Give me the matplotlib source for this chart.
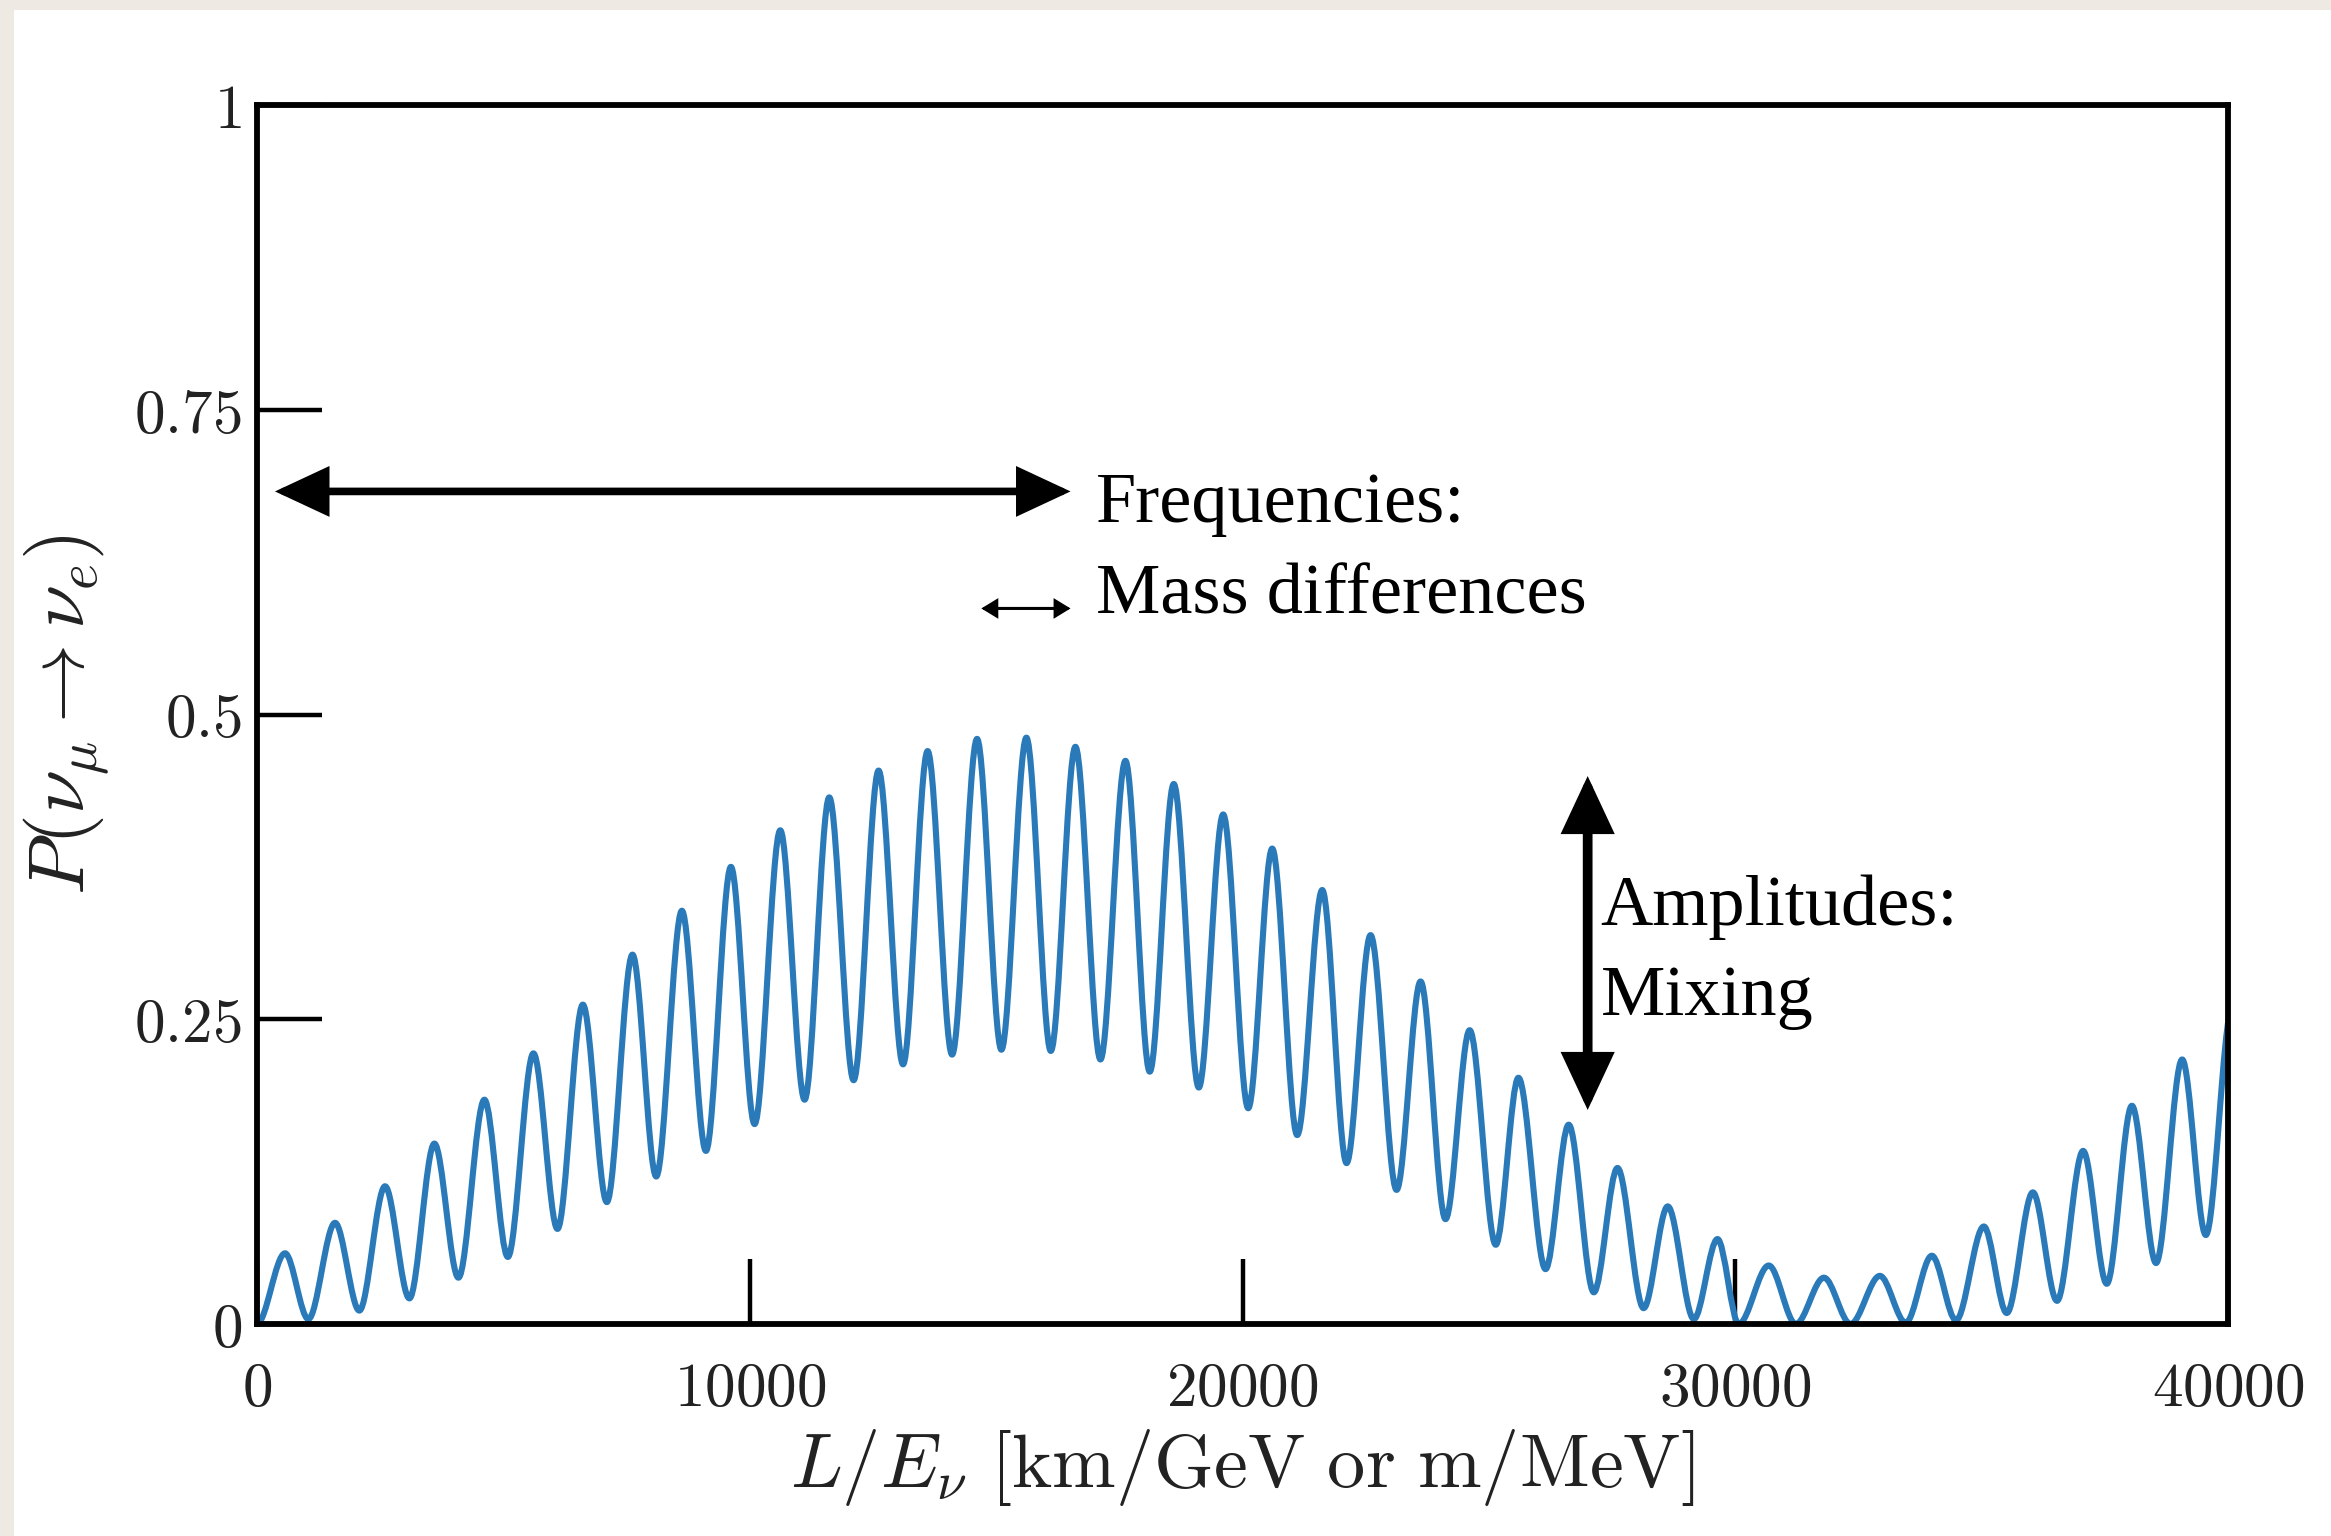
import matplotlib
matplotlib.use("Agg")
import matplotlib.pyplot as plt
from matplotlib.path import Path
from matplotlib.patches import PathPatch, Rectangle, FancyArrowPatch, ArrowStyle

plt.rcParams['mathtext.fontset'] = 'cm'

# ---- data: extrema of P(nu_mu -> nu_e) (alternating trough/peak) ----
ext_x = [0, 569, 1042, 1584, 2077, 2599, 3093, 3600, 4088, 4615, 5091, 5610,
         6098, 6613, 7100, 7620, 8102, 8623, 9111, 9618, 10098, 10619, 11113, 11614,
         12108, 12615, 13111, 13610, 14106, 14613, 15107, 15614, 16110, 16609, 17117, 17624,
         18118, 18605, 19113, 19608, 20116, 20603, 21110, 21618, 22112, 22599, 23127, 23614,
         24120, 24610, 25140, 25600, 26150, 26620, 27130, 27610, 28140, 28630, 29160, 29640,
         30070, 30680, 31230, 31800, 32340, 32935, 33460, 33990, 34480, 35045, 35510, 36040,
         36530, 37060, 37540, 38050, 38540, 39070, 39550, 40080]
ext_y = [0.000, 0.058, 0.004, 0.083, 0.011, 0.113, 0.021, 0.148, 0.038, 0.184, 0.055, 0.222,
         0.078, 0.262, 0.100, 0.303, 0.121, 0.339, 0.142, 0.375, 0.164, 0.405, 0.184, 0.432,
         0.200, 0.454, 0.213, 0.470, 0.221, 0.480, 0.225, 0.481, 0.224, 0.4735, 0.217, 0.462,
         0.207, 0.443, 0.194, 0.418, 0.177, 0.390, 0.155, 0.356, 0.132, 0.319, 0.110, 0.281,
         0.086, 0.241, 0.065, 0.202, 0.045, 0.1635, 0.026, 0.128, 0.013, 0.0965, 0.004, 0.0697,
         0.000, 0.048, 0.000, 0.038, 0.000, 0.0395, 0.001, 0.056, 0.003, 0.080, 0.009, 0.108,
         0.019, 0.142, 0.033, 0.179, 0.050, 0.217, 0.073, 0.258]

x_ticks = [0, 10000, 20000, 30000, 40000]
x_ticklabels = [r'$0$', r'$10000$', r'$20000$', r'$30000$', r'$40000$']
y_ticks = [0, 0.25, 0.5, 0.75, 1]
y_ticklabels = [r'$0$', r'$0.25$', r'$0.5$', r'$0.75$', r'$1$']

x_label = r'$L/E_\nu\ [\mathrm{km/GeV\ or\ m/MeV}]$'
y_label = r'$P(\nu_\mu \rightarrow \nu_e)$'

# annotations: (x, y) in data units
freq_arrow = [(365, 0.683), (16510, 0.683)]
mass_arrow = [(14700, 0.587), (16510, 0.587)]
amp_arrow = [(27005, 0.4495), (27005, 0.1756)]
texts = [("Frequencies:", 17035, 0.658), ("Mass differences", 17035, 0.583),
         ("Amplitudes:", 27270, 0.327), ("Mixing", 27270, 0.2535)]

# ---- figure ----
W, H = 2331, 1536
fig = plt.figure(figsize=(W / 100, H / 100), dpi=100, facecolor='#eeeae3')
fig.add_artist(Rectangle((14 / W, 0), 1, 1 - 10 / H, transform=fig.transFigure,
                         facecolor='white', edgecolor='none', zorder=0))

ax = fig.add_axes([257 / W, 1 - 1324 / H, (2228 - 257) / W, (1324 - 105) / H])
ax.set_facecolor('white')

# smooth curve through extrema (cubic Bezier segments, horizontal tangents at extrema)
verts = [(ext_x[0], ext_y[0])]
codes = [Path.MOVETO]
for i in range(1, len(ext_x)):
    x0, y0 = ext_x[i - 1], ext_y[i - 1]
    x1, y1 = ext_x[i], ext_y[i]
    dx = x1 - x0
    verts += [(x0 + dx / 3, y0), (x1 - dx / 3, y1), (x1, y1)]
    codes += [Path.CURVE4] * 3
curve = PathPatch(Path(verts, codes), facecolor='none', edgecolor='#2a7ab9',
                  lw=4.4, joinstyle='round', capstyle='round', zorder=2)
ax.add_patch(curve)

ax.set_xlim(0, 40000)
ax.set_ylim(0, 1)

for s in ax.spines.values():
    s.set_linewidth(4.2)
    s.set_color('black')

ax.set_xticks(x_ticks)
ax.set_xticklabels(x_ticklabels)
ax.set_yticks(y_ticks)
ax.set_yticklabels(y_ticklabels)
ax.tick_params(axis='x', direction='in', length=47, width=3.2, pad=26, labelsize=44,
               top=False)
ax.tick_params(axis='y', direction='in', length=47, width=3.2, pad=11, labelsize=44,
               right=False)
for lab in ax.get_xticklabels() + ax.get_yticklabels():
    lab.set_color('#222222')

ax.set_xlabel(x_label, fontsize=55, labelpad=6, color='#222222')
ax.set_ylabel(y_label, fontsize=57, labelpad=16, color='#222222')

# arrows
def darrow(p, hl, hw, lw):
    a = FancyArrowPatch(p[0], p[1],
                        arrowstyle=ArrowStyle('<|-|>', head_length=hl, head_width=hw),
                        mutation_scale=1, lw=lw, color='black', shrinkA=0, shrinkB=0,
                        joinstyle='miter', zorder=5)
    ax.add_patch(a)

darrow(freq_arrow, 30, 14, 5.5)
darrow(mass_arrow, 9, 5.5, 2.2)
darrow(amp_arrow, 30, 14, 7.0)

for t, x, y in texts:
    ax.text(x, y, t, fontsize=52, family='Liberation Serif', ha='left', va='baseline',
            color='black', zorder=6)

fig.savefig('out.png', dpi=100, facecolor=fig.get_facecolor())
